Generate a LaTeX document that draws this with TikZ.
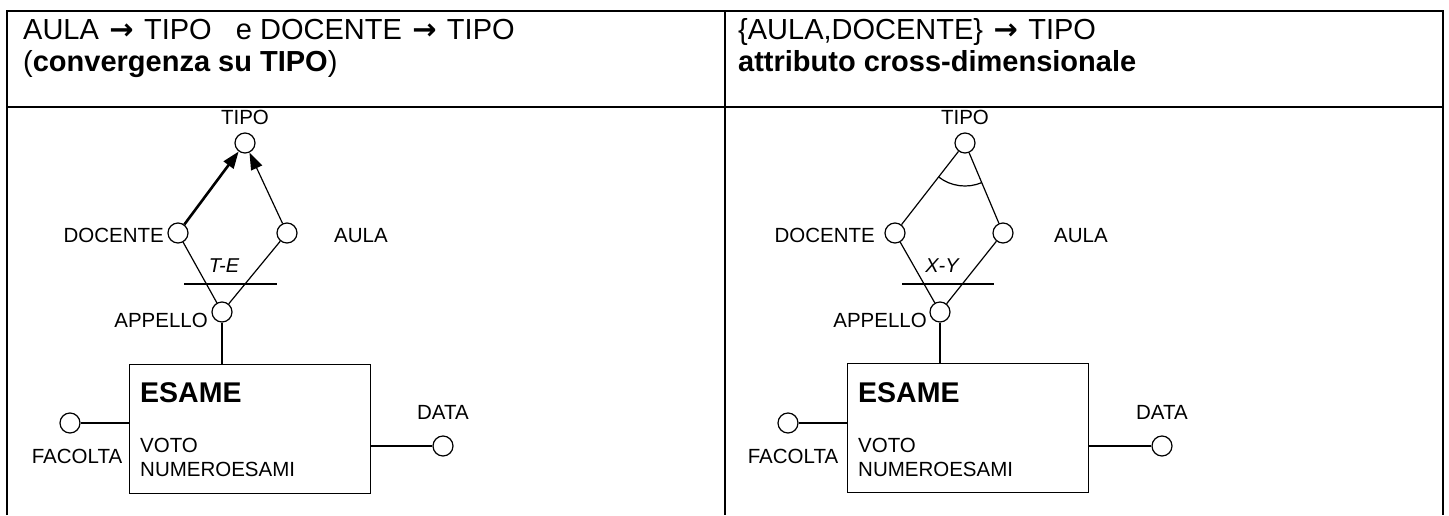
\documentclass[tikz,border=0pt]{standalone}
\usepackage{fontspec}
\setmainfont{Liberation Sans}
\newfontfamily\arrfont{DejaVu Sans}
\newcommand{\rarr}{\hbox to 1em{\hss{\arrfont\bfseries →}\hss}}
\usetikzlibrary{arrows.meta}
\begin{document}
\begin{tikzpicture}[x=1pt,y=-1pt,
  attr/.style={circle, draw, minimum size=20pt, inner sep=0pt, line width=1.2pt},
  lbl/.style={font=\fontsize{20.5}{24}\selectfont, inner sep=0pt},
  cut/.style={font=\fontsize{20}{24}\selectfont\itshape, inner sep=0pt, anchor=base},
  ename/.style={font=\fontsize{28.5}{32}\selectfont\bfseries, inner sep=0pt, anchor=base west},
  link/.style={line width=1.2pt},
  tbl/.style={line width=2.6pt},
  hdr/.style={font=\fontsize{29}{33}\selectfont, inner sep=0pt, anchor=base west},
  ent/.style={draw, line width=1.4pt, minimum width=241pt, minimum height=129pt, anchor=north west, inner sep=0pt},
  tip/.style={-{Triangle[length=17pt,width=12pt]}}
]
\useasboundingbox (0,0) rectangle (1449,515);
% table
\draw[tbl] (7,515) -- (7,11) -- (1443,11) -- (1443,515);
\draw[tbl] (725,11) -- (725,515);
\draw[tbl] (7,107) -- (1443,107);
% headers
\node[hdr] (h1a) at (23,39) {AULA \rarr{} TIPO\ \ \ e DOCENTE \rarr{} TIPO};
\node[hdr] (h1b) at (23,71) {(\textbf{convergenza su TIPO})};
\node[hdr] (h2a) at (738,39) {\{AULA,DOCENTE\} \rarr{} TIPO};
\node[hdr] (h2b) at (738,71) {\textbf{attributo cross-dimensionale}};

% ---------- left panel ----------
\node[attr] (tipoL) at (245,143) {};
\node[attr] (docL) at (178,233) {};
\node[attr] (aulaL) at (287,233) {};
\node[attr] (appL) at (222,312) {};
\node[ent] (boxL) at (129,364) {};
\node[attr] (facL) at (70,423) {};
\node[attr] (dataL) at (443,446) {};
\node[lbl, anchor=base] (tipoLt) at (245,124) {TIPO};
\node[lbl, anchor=base east] (docLt) at (164,242) {DOCENTE};
\node[lbl, anchor=base west] (aulaLt) at (334,242) {AULA};
\node[lbl, anchor=base east] (appLt) at (208,327) {APPELLO};
\node[cut] (teL) at (224,272) {T-E};
\node[ename] (esL) at (140,402) {ESAME};
\node[lbl, anchor=base west] (votoL) at (140,452) {VOTO};
\node[lbl, anchor=base west] (numL) at (140,476) {NUMEROESAMI};
\node[lbl, anchor=base] (facLt) at (77,463) {FACOLTA};
\node[lbl, anchor=base] (dataLt) at (443,419) {DATA};
\draw[link, tip, line width=2.6pt] (docL) -- (tipoL);
\draw[link, tip] (aulaL) -- (tipoL);
\draw[link] (docL) -- (appL);
\draw[link] (aulaL) -- (appL);
\draw[link] (184,284) -- (277,284);
\draw[link] (appL) -- (appL |- boxL.north);
\draw[link] (facL) -- (facL -| boxL.west);
\draw[link] (boxL.east |- dataL) -- (dataL);

% ---------- right panel ----------
\node[attr] (tipoR) at (965,143) {};
\node[attr] (docR) at (895,233) {};
\node[attr] (aulaR) at (1003,233) {};
\node[attr] (appR) at (940,312) {};
\node[ent] (boxR) at (847,363) {};
\node[attr] (facR) at (788,423) {};
\node[attr] (dataR) at (1162,446) {};
\node[lbl, anchor=base] (tipoRt) at (965,124) {TIPO};
\node[lbl, anchor=base east] (docRt) at (875,242) {DOCENTE};
\node[lbl, anchor=base west] (aulaRt) at (1054,242) {AULA};
\node[lbl, anchor=base east] (appRt) at (927,327) {APPELLO};
\node[cut] (xyR) at (942,272) {X-Y};
\node[ename] (esR) at (858,402) {ESAME};
\node[lbl, anchor=base west] (votoR) at (858,452) {VOTO};
\node[lbl, anchor=base west] (numR) at (858,476) {NUMEROESAMI};
\node[lbl, anchor=base] (facRt) at (793,463) {FACOLTA};
\node[lbl, anchor=base] (dataRt) at (1162,419) {DATA};
\draw[link] (docR) -- (tipoR);
\draw[link] (aulaR) -- (tipoR);
\draw[link] ([shift={(232.1:43pt)}]tipoR.center) arc[start angle=232.1, end angle=292.9, radius=43pt];
\draw[link] (docR) -- (appR);
\draw[link] (aulaR) -- (appR);
\draw[link] (902,284) -- (994,284);
\draw[link] (appR) -- (appR |- boxR.north);
\draw[link] (facR) -- (facR -| boxR.west);
\draw[link] (boxR.east |- dataR) -- (dataR);
\end{tikzpicture}
\end{document}
